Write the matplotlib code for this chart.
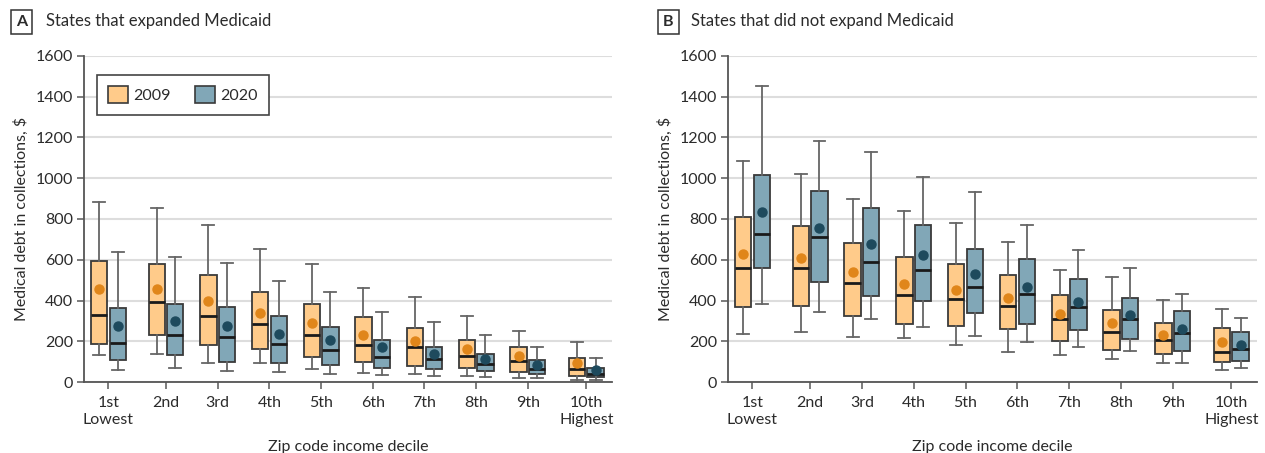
import matplotlib
matplotlib.use("Agg")
import matplotlib.pyplot as plt
from matplotlib.patches import Patch
import numpy as np

plt.rcParams['font.family'] = ['Lato', 'DejaVu Sans']

deciles = ["1st\nLowest", "2nd", "3rd", "4th", "5th", "6th", "7th", "8th", "9th", "10th\nHighest"]
years = ["2009", "2020"]

# Panel A: states that expanded Medicaid
a09_lo  = [132, 137, 96, 95, 64, 47, 39, 29, 21, 13]
a09_q1  = [188, 233, 181, 163, 122, 98, 81, 70, 49, 29]
a09_med = [330, 393, 326, 286, 232, 183, 171, 130, 103, 65]
a09_q3  = [593, 578, 524, 442, 384, 318, 268, 209, 171, 118]
a09_hi  = [883, 852, 769, 655, 581, 464, 418, 323, 251, 196]
a09_mean = [457, 459, 397, 338, 289, 232, 204, 165, 129, 95]

a20_lo  = [62, 72, 57, 49, 42, 36, 29, 27, 21, 13]
a20_q1  = [108, 135, 101, 95, 85, 70, 64, 54, 41, 24]
a20_med = [191, 233, 220, 186, 160, 126, 116, 90, 65, 42]
a20_q3  = [362, 382, 367, 325, 271, 209, 174, 140, 108, 72]
a20_hi  = [637, 612, 586, 498, 444, 343, 294, 233, 171, 118]
a20_mean = [277, 302, 274, 238, 206, 171, 140, 114, 86, 60]

# Panel B: states that did not expand Medicaid
b09_lo  = [238, 246, 222, 216, 183, 150, 134, 113, 95, 59]
b09_q1  = [367, 375, 323, 287, 274, 260, 202, 157, 137, 101]
b09_med = [558, 558, 488, 426, 407, 374, 310, 246, 206, 148]
b09_q3  = [811, 767, 681, 615, 581, 524, 429, 354, 292, 266]
b09_hi  = [1086, 1020, 900, 838, 780, 686, 552, 514, 402, 358]
b09_mean = [628, 609, 540, 483, 454, 414, 336, 292, 233, 196]

b20_lo  = [384, 343, 309, 269, 225, 196, 171, 155, 96, 72]
b20_q1  = [558, 490, 423, 397, 338, 287, 258, 211, 155, 103]
b20_med = [728, 713, 588, 550, 465, 433, 367, 309, 240, 162]
b20_q3  = [1017, 939, 854, 771, 655, 604, 508, 413, 349, 245]
b20_hi  = [1450, 1181, 1127, 1007, 934, 769, 650, 561, 431, 315]
b20_mean = [834, 757, 679, 624, 532, 468, 395, 331, 260, 183]

yticks = [0, 200, 400, 600, 800, 1000, 1200, 1400, 1600]

C09_FILL = "#FFCB8A"
C09_MEAN = "#E0861A"
C20_FILL = "#81A7B7"
C20_MEAN = "#1E4A5D"
EDGE = "#3a3a3a"
WHISK = "#666666"
TXT = "#2b2b2b"

W, H = 1265, 453
fig = plt.figure(figsize=(W / 100, H / 100), dpi=100)

# tick positions (first and last decile set slightly apart, as in the original)
pos = np.arange(10, dtype=float)
pos[0] -= 0.115
pos[9] += 0.13
off = 0.18
bw = 0.315


def stats(lo, q1, med, q3, hi, mean):
    return [dict(whislo=lo[i], q1=q1[i], med=med[i], q3=q3[i], whishi=hi[i],
                 mean=mean[i], fliers=[]) for i in range(len(lo))]


def draw(ax, s09, s20):
    for st, shift, fill, mc in [(s09, -off, C09_FILL, C09_MEAN), (s20, off, C20_FILL, C20_MEAN)]:
        ax.bxp(st, positions=pos + shift, widths=bw, patch_artist=True,
               showmeans=True, showfliers=False,
               boxprops=dict(facecolor=fill, edgecolor=EDGE, linewidth=1.3),
               medianprops=dict(color="#1a1a1a", linewidth=2.0),
               whiskerprops=dict(color=WHISK, linewidth=1.3),
               capprops=dict(color=WHISK, linewidth=1.3),
               meanprops=dict(marker="o", markerfacecolor=mc, markeredgecolor=mc, markersize=6.5),
               capwidths=0.23, manage_ticks=False, zorder=3)
    ax.set_ylim(0, 1600)
    ax.set_xlim(-0.586, 9.627)
    ax.set_yticks(yticks)
    ax.set_yticklabels([str(v) for v in yticks])
    ax.set_xticks(pos)
    ax.set_xticklabels(deciles, linespacing=1.3)
    ax.yaxis.grid(True, color="#dddddd", linewidth=1.5, zorder=0)
    ax.set_axisbelow(True)
    for sp in ["top", "right"]:
        ax.spines[sp].set_visible(False)
    for sp in ["left", "bottom"]:
        ax.spines[sp].set_color("#555555")
        ax.spines[sp].set_linewidth(1.3)
    ax.tick_params(axis="both", colors="#666666", length=5, width=1.2,
                   labelsize=11.5, labelcolor=TXT, pad=3)
    ax.tick_params(axis="x", pad=5)
    ax.set_ylabel("Medical debt in collections, $", fontsize=11.5, color=TXT, labelpad=5)
    ax.set_xlabel("Zip code income decile", fontsize=11.5, color=TXT, labelpad=9)


bottom = 1 - 382.3 / H
height = 326.6 / H
axA = fig.add_axes([84 / W, bottom, 528 / W, height])
axB = fig.add_axes([728 / W, bottom, 529 / W, height])

draw(axA, stats(a09_lo, a09_q1, a09_med, a09_q3, a09_hi, a09_mean),
     stats(a20_lo, a20_q1, a20_med, a20_q3, a20_hi, a20_mean))
draw(axB, stats(b09_lo, b09_q1, b09_med, b09_q3, b09_hi, b09_mean),
     stats(b20_lo, b20_q1, b20_med, b20_q3, b20_hi, b20_mean))

handles = [Patch(facecolor=C09_FILL, edgecolor=EDGE, linewidth=1.2, label=years[0]),
           Patch(facecolor=C20_FILL, edgecolor=EDGE, linewidth=1.2, label=years[1])]
leg = axA.legend(handles=handles, ncol=2, loc="upper left",
                 bbox_to_anchor=(0.024, 0.94), fontsize=11.5, frameon=True,
                 fancybox=False, edgecolor="#444444", framealpha=1,
                 handlelength=1.25, handleheight=1.25, columnspacing=1.5,
                 handletextpad=0.35, borderpad=0.7, borderaxespad=0)
leg.get_frame().set_linewidth(1.2)
for t in leg.get_texts():
    t.set_color(TXT)

# panel titles
for x_box, x_txt, letter, title in [(21.5, 46, "A", "States that expanded Medicaid"),
                                     (668.5, 691, "B", "States that did not expand Medicaid")]:
    fig.text(x_box / W, 1 - 22 / H, letter, fontsize=11.5, fontweight="bold",
             color=TXT, ha="center", va="center",
             bbox=dict(boxstyle="square,pad=0.3", facecolor="white",
                       edgecolor="#333333", linewidth=1.1))
    fig.text(x_txt / W, 1 - 21 / H, title, fontsize=12, color=TXT,
             ha="left", va="center")

fig.savefig("out.png", dpi=100)
